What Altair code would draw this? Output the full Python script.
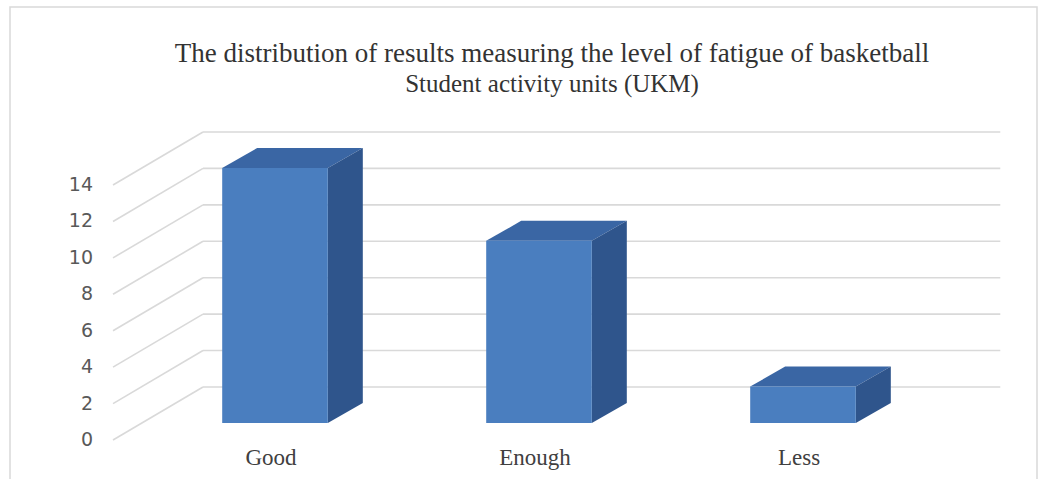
import altair as alt
import pandas as pd

# ---- data ----
categories = ["Good", "Enough", "Less"]
values = [14, 10, 2]
y_ticks = [0, 2, 4, 6, 8, 10, 12, 14]
title_lines = [
    "The distribution of results measuring the level of fatigue of basketball",
    "Student activity units (UKM)",
]

# ---- 3D geometry (x in category-slot units, y in value units) ----
BAR_HALF = 0.2            # half width of the bar's front face
DEPTH_DX, DEPTH_DY = 0.1326, 1.10     # bar depth
FLOOR_DX, FLOOR_DY = -0.1136, -0.934  # front edge of floor relative to bar front plane
WALL_DX, WALL_DY = 0.2273, 1.978      # back wall relative to bar front plane
WALL_RIGHT = 3.02

FRONT = "#4a7ebf"
TOP = "#3a66a4"
SIDE = "#2f558c"
GRID = "#d9d9d9"

front_rows, top_rows, side_rows = [], [], []
for i, (c, v) in enumerate(zip(categories, values)):
    cx = i + 0.5
    xl, xr = cx - BAR_HALF, cx + BAR_HALF
    front_rows.append({"cat": c, "cx": cx, "xl": xl, "xr": xr, "v": v})
    top_rows.append({"cat": c, "y": v, "x": xl, "x2": xr})
    top_rows.append({"cat": c, "y": v + DEPTH_DY, "x": xl + DEPTH_DX, "x2": xr + DEPTH_DX})
    side_rows.append({"cat": c, "x": xr, "y": 0, "y2": v})
    side_rows.append({"cat": c, "x": xr + DEPTH_DX, "y": DEPTH_DY, "y2": v + DEPTH_DY})

front_df = pd.DataFrame(front_rows)
top_df = pd.DataFrame(top_rows)
side_df = pd.DataFrame(side_rows)

grid_df = pd.DataFrame({
    "v": y_ticks,
    "fx": [FLOOR_DX] * len(y_ticks),
    "fy": [t + FLOOR_DY for t in y_ticks],
    "bx": [WALL_DX] * len(y_ticks),
    "by": [t + WALL_DY for t in y_ticks],
    "bx2": [WALL_RIGHT + WALL_DX] * len(y_ticks),
})

xs = alt.Scale(domain=[0, 3], nice=False, zero=False)
ys = alt.Scale(domain=[0, 14], nice=False, zero=False)


def X(f):
    return alt.X(f, type="quantitative", scale=xs, axis=None)


def Y(f):
    return alt.Y(f, type="quantitative", scale=ys, axis=None)


one = pd.DataFrame({"a": [0]})

border = alt.Chart(one).mark_rect(
    fill="white", stroke="#d9d9d9", strokeWidth=1.5
).encode(
    x=alt.value(-133), x2=alt.value(894), y=alt.value(-161), y2=alt.value(330)
)

title1 = alt.Chart(one).mark_text(
    align="center", baseline="alphabetic", font="Liberation Serif",
    fontSize=27, color="#333333", text=title_lines[0]
).encode(x=alt.value(409), y=alt.value(-106))

title2 = alt.Chart(one).mark_text(
    align="center", baseline="alphabetic", font="Liberation Serif",
    fontSize=25, color="#333333", text=title_lines[1]
).encode(x=alt.value(409), y=alt.value(-76))

wall_lines = alt.Chart(grid_df).mark_rule(color=GRID, strokeWidth=1.6).encode(
    x=X("bx"), x2="bx2", y=Y("by")
)

slant_lines = alt.Chart(grid_df).mark_rule(color=GRID, strokeWidth=1.6).encode(
    x=X("fx"), x2="bx", y=Y("fy"), y2="by"
)

y_labels = alt.Chart(grid_df).mark_text(
    align="right", baseline="middle", dx=-20, font="DejaVu Sans",
    fontSize=19, color="#595959"
).encode(x=X("fx"), y=Y("fy"), text=alt.Text("v:Q"))

tops = alt.Chart(top_df).mark_area(orient="horizontal", color=TOP).encode(
    y=Y("y"), x=X("x"), x2="x2", detail="cat:N"
)

sides = alt.Chart(side_df).mark_area(orient="vertical", color=SIDE).encode(
    x=X("x"), y=Y("y"), y2="y2", detail="cat:N"
)

fronts = alt.Chart(front_df).mark_rect(color=FRONT).encode(
    x=X("xl"), x2="xr", y=Y("v"), y2=alt.datum(0)
)

x_labels = alt.Chart(front_df).mark_text(
    baseline="middle", dx=-4, dy=35, font="Liberation Serif", fontSize=23,
    color="#404040"
).encode(x=X("cx"), y=alt.datum(0, scale=ys), text="cat:N")

chart = alt.layer(
    border, title1, title2, wall_lines, slant_lines, y_labels, tops, sides, fronts, x_labels
).properties(
    width=792,
    height=255,
    padding={"left": 143, "top": 168, "right": 110, "bottom": 56},
    autosize=alt.AutoSizeParams(type="none"),
).configure_view(stroke=None).configure(background="white")

chart.save("out.html", embed_options={"renderer": "svg", "actions": False})
